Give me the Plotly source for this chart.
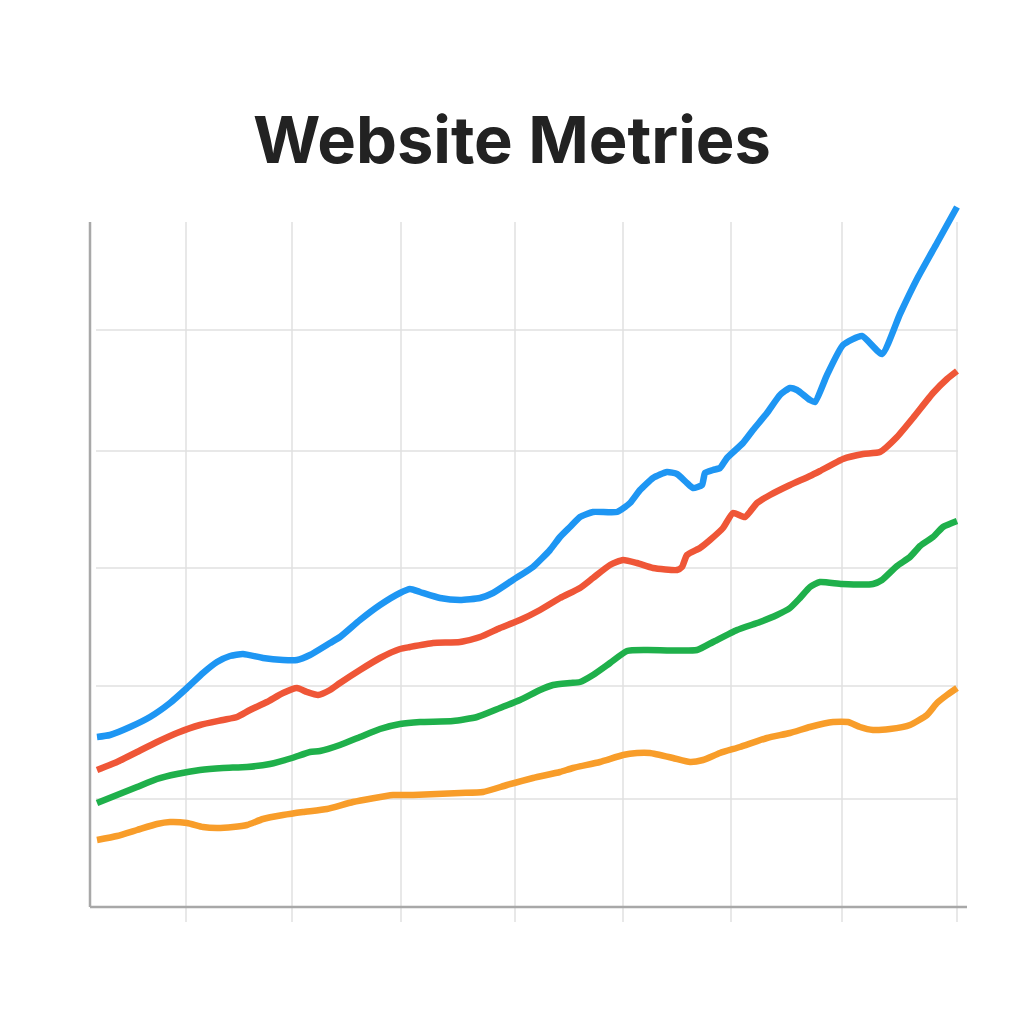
import plotly.graph_objects as go

# ---- data (x = day index, y = metric value) ----
pageviews_x = [0.0, 1.3, 3.3, 5.3, 7.3, 9.0, 10.6, 12.0, 13.3, 14.6, 16.6, 18.6, 20.0, 21.3, 23.3, 24.3,
               26.3, 28.3, 30.3, 31.3, 32.3, 34.3, 36.3, 38.3, 39.6, 41.6, 43.6, 45.3, 46.3, 47.3, 48.3,
               49.6, 52.0, 53.3, 54.3, 55.6, 57.0, 58.0, 59.0, 59.6, 60.5, 60.8, 61.6, 62.3, 63.0, 64.6,
               65.6, 67.0, 68.3, 69.3, 70.0, 71.3, 71.8, 73.0, 74.6, 76.5, 78.5, 80.3, 82.0, 84.0, 86.0]
pageviews_y = [17.0, 17.2, 18.0, 19.0, 20.4, 21.9, 23.4, 24.5, 25.1, 25.3, 24.9, 24.7, 24.7, 25.2, 26.4, 27.0,
               28.7, 30.2, 31.4, 31.8, 31.5, 30.9, 30.7, 30.9, 31.4, 32.7, 34.0, 35.7, 37.0, 38.0, 39.0,
               39.5, 39.5, 40.4, 41.7, 42.9, 43.5, 43.3, 42.4, 41.9, 42.2, 43.4, 43.7, 43.9, 44.9, 46.4,
               47.7, 49.4, 51.2, 51.9, 51.7, 50.7, 50.5, 53.2, 56.2, 57.1, 55.3, 59.3, 62.8, 66.4, 70.0]

sessions_x = [0.0, 2.0, 4.0, 6.0, 8.0, 10.3, 12.6, 14.0, 15.3, 17.0, 18.6, 20.0, 21.0, 22.1, 23.3, 24.3,
              26.3, 28.3, 30.3, 31.3, 33.6, 36.3, 38.3, 40.3, 42.3, 44.3, 46.3, 48.3, 49.6, 51.3, 52.6,
              54.0, 55.6, 58.0, 58.5, 59.0, 60.3, 61.3, 62.6, 63.6, 64.8, 66.0, 67.3, 69.3, 71.3, 72.3,
              74.6, 76.6, 78.3, 80.0, 81.6, 83.6, 85.0, 86.0]
sessions_y = [13.7, 14.5, 15.5, 16.5, 17.4, 18.2, 18.7, 19.0, 19.7, 20.5, 21.4, 21.9, 21.5, 21.2, 21.7, 22.4,
              23.7, 24.9, 25.8, 26.0, 26.4, 26.5, 27.0, 27.9, 28.7, 29.7, 30.9, 31.9, 32.9, 34.2, 34.7,
              34.4, 33.9, 33.7, 34.0, 35.2, 35.9, 36.7, 37.9, 39.4, 39.0, 40.4, 41.2, 42.2, 43.1, 43.6,
              44.8, 45.3, 45.5, 47.0, 48.9, 51.4, 52.8, 53.6]

users_x = [0.0, 2.0, 4.0, 6.0, 8.0, 10.3, 12.6, 15.0, 17.3, 19.5, 21.3, 22.3, 24.3, 26.3, 28.3, 30.3,
           32.3, 35.6, 38.0, 40.3, 42.3, 44.3, 45.6, 47.3, 48.3, 49.6, 51.3, 53.0, 55.0, 60.0, 61.6,
           64.0, 66.3, 68.0, 69.3, 70.3, 71.3, 72.3, 74.5, 77.6, 78.5, 80.0, 81.3, 82.3, 83.6, 84.6, 86.0]
users_y = [10.4, 11.2, 12.0, 12.8, 13.3, 13.7, 13.9, 14.0, 14.3, 14.9, 15.5, 15.6, 16.2, 17.0, 17.8, 18.3,
           18.5, 18.6, 19.0, 19.9, 20.7, 21.7, 22.2, 22.4, 22.5, 23.2, 24.4, 25.6, 25.7, 25.7, 26.5,
           27.7, 28.5, 29.2, 29.9, 30.9, 32.0, 32.5, 32.3, 32.3, 32.7, 34.1, 35.0, 36.1, 37.0, 38.0, 38.6]

conversions_x = [0.0, 2.0, 4.0, 6.0, 7.3, 9.0, 10.6, 12.0, 13.6, 15.0, 16.6, 18.6, 20.6, 23.0, 25.6, 29.6,
                 31.6, 36.3, 38.6, 41.0, 43.6, 46.3, 47.6, 50.3, 52.6, 54.0, 55.3, 57.6, 59.3, 60.6, 62.3,
                 64.3, 67.0, 69.3, 71.3, 73.6, 75.1, 76.3, 77.6, 79.3, 81.3, 83.0, 84.0, 85.0, 86.0]
conversions_y = [6.7, 7.1, 7.7, 8.3, 8.5, 8.4, 8.0, 7.9, 8.0, 8.2, 8.8, 9.2, 9.5, 9.8, 10.5, 11.2,
                 11.2, 11.4, 11.5, 12.2, 12.9, 13.5, 13.9, 14.5, 15.2, 15.4, 15.4, 14.9, 14.5, 14.7, 15.4,
                 16.0, 16.9, 17.4, 18.0, 18.5, 18.5, 18.0, 17.7, 17.8, 18.2, 19.2, 20.4, 21.2, 21.9]

x_grid = [8.9, 19.5, 30.4, 41.8, 52.6, 63.4, 74.5, 86.0]
y_grid = [10.8, 22.1, 33.9, 45.6, 57.7]

series = [
    ("Page Views", pageviews_x, pageviews_y, "#1E96F3"),
    ("Sessions", sessions_x, sessions_y, "#EF5637"),
    ("Users", users_x, users_y, "#1FB04B"),
    ("Conversions", conversions_x, conversions_y, "#F89D2A"),
]

fig = go.Figure()
for name, xs, ys, color in series[::-1]:
    fig.add_trace(go.Scatter(
        x=xs, y=ys, mode="lines", name=name,
        line=dict(color=color, width=6.5, shape="spline", smoothing=0.5),
        showlegend=False,
    ))

shapes = []
grid_color = "#E0E0E0"
for gx in x_grid:
    shapes.append(dict(type="line", xref="x", yref="paper", x0=gx, x1=gx,
                       y0=-0.0214, y1=0.9758, line=dict(color=grid_color, width=1.5),
                       layer="below"))
for gy in y_grid:
    shapes.append(dict(type="line", xref="paper", yref="y", x0=0.0068, x1=0.9897,
                       y0=gy, y1=gy, line=dict(color=grid_color, width=1.5), layer="below"))
# axis lines
shapes.append(dict(type="line", xref="paper", yref="paper", x0=0, x1=0, y0=0, y1=0.9758,
                   line=dict(color="#A8A8A8", width=2.5), layer="below"))
shapes.append(dict(type="line", xref="paper", yref="paper", x0=0, x1=1, y0=0, y1=0,
                   line=dict(color="#A8A8A8", width=2.5), layer="below"))

fig.update_layout(
    width=1016, height=1016,
    margin=dict(l=82, r=57, t=197, b=117),
    paper_bgcolor="white", plot_bgcolor="white",
    title=dict(text="<b>Website Metries</b>", x=(512 - 8) / 1016, xanchor="center",
               y=1 - 132 / 1016, yanchor="middle",
               font=dict(family="Inter", size=65, color="#222222")),
    xaxis=dict(range=[-0.7, 87.0], showgrid=False, zeroline=False, showticklabels=False,
               showline=False, ticks=""),
    yaxis=dict(range=[0, 70.2], showgrid=False, zeroline=False, showticklabels=False,
               showline=False, ticks=""),
    shapes=shapes,
)

fig.write_html("out.html")
